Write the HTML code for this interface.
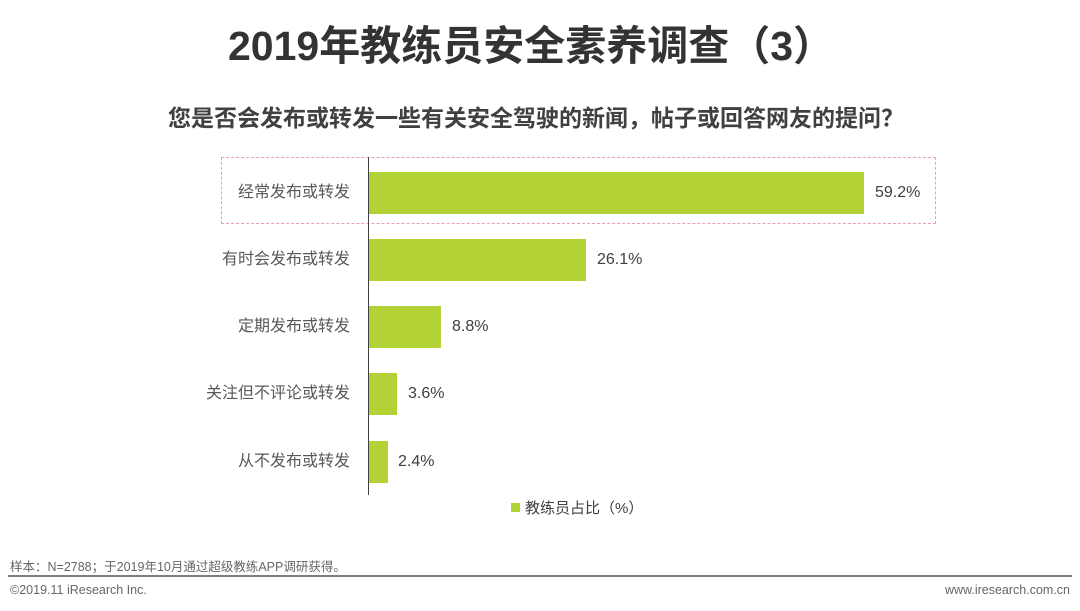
<!DOCTYPE html><html><head><meta charset="utf-8"><style>
body{margin:0;width:1080px;height:611px;background:#fff;position:relative;overflow:hidden;font-family:"Liberation Sans","Noto Sans CJK SC",sans-serif;color:#404040}
.a{position:absolute;white-space:nowrap}
.bar{position:absolute;left:369px;height:42px;background:#b2d235}
.lab{position:absolute;right:730px;font-size:16px;color:#595959;line-height:42px}
.val{position:absolute;font-size:16px;color:#404040;line-height:42px}
</style></head><body>
<div class="a" style="left:0;width:1062px;text-align:center;top:12px;font-size:41px;font-weight:bold;color:#333">2019年教练员安全素养调查（3）</div>
<div class="a" style="left:0;width:1072px;text-align:center;top:99px;font-size:23px;font-weight:bold;color:#404040">您是否会发布或转发一些有关安全驾驶的新闻，帖子或回答网友的提问？</div>
<div class="a" style="left:221px;top:157px;width:713px;height:65px;border:1px dashed #e8a0b0"></div>
<div class="a" style="left:368px;top:157px;width:1px;height:338px;background:#404040"></div>
<div class="bar" style="top:172px;width:495px"></div><div class="lab" style="top:172px">经常发布或转发</div><div class="val" style="top:172px;left:875px">59.2%</div>
<div class="bar" style="top:239px;width:217px"></div><div class="lab" style="top:239px">有时会发布或转发</div><div class="val" style="top:239px;left:597px">26.1%</div>
<div class="bar" style="top:306px;width:72px"></div><div class="lab" style="top:306px">定期发布或转发</div><div class="val" style="top:306px;left:452px">8.8%</div>
<div class="bar" style="top:373px;width:28px"></div><div class="lab" style="top:373px">关注但不评论或转发</div><div class="val" style="top:373px;left:408px">3.6%</div>
<div class="bar" style="top:441px;width:19px"></div><div class="lab" style="top:441px">从不发布或转发</div><div class="val" style="top:441px;left:398px">2.4%</div>
<div class="a" style="left:511px;top:503px;width:9px;height:9px;background:#b2d235"></div>
<div class="a" style="left:525px;top:497px;font-size:15px;color:#404040">教练员占比（%）</div>
<div class="a" style="left:10px;top:556px;font-size:12.5px;color:#666">样本：N=2788；于2019年10月通过超级教练APP调研获得。</div>
<div class="a" style="left:8px;top:575px;width:1064px;height:2px;background:#7f7f7f"></div>
<div class="a" style="left:10px;top:583px;font-size:12.5px;color:#666">©2019.11 iResearch Inc.</div>
<div class="a" style="right:10px;top:583px;font-size:12.5px;color:#666">www.iresearch.com.cn</div>
</body></html>
